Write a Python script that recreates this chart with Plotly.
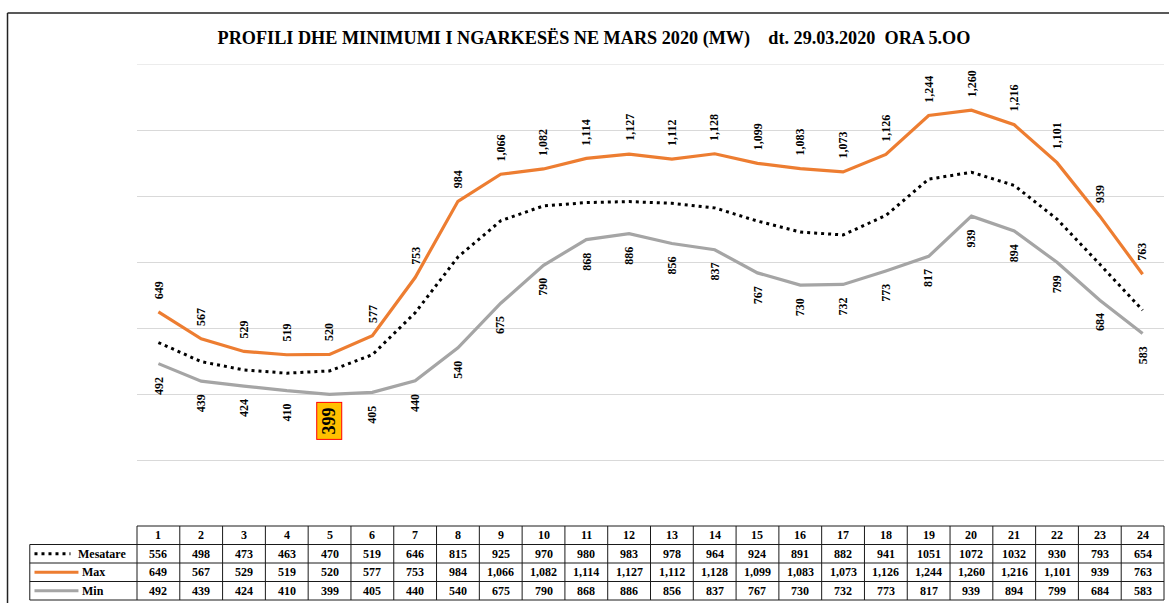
import plotly.graph_objects as go

# ---------------- data ----------------
hours = list(range(1, 25))
mesatare = [556, 498, 473, 463, 470, 519, 646, 815, 925, 970, 980, 983,
            978, 964, 924, 891, 882, 941, 1051, 1072, 1032, 930, 793, 654]
max_vals = [649, 567, 529, 519, 520, 577, 753, 984, 1066, 1082, 1114, 1127,
            1112, 1128, 1099, 1083, 1073, 1126, 1244, 1260, 1216, 1101, 939, 763]
min_vals = [492, 439, 424, 410, 399, 405, 440, 540, 675, 790, 868, 886,
            856, 837, 767, 730, 732, 773, 817, 939, 894, 799, 684, 583]
row_labels = ["Mesatare", "Max", "Min"]
title_text = ("PROFILI DHE MINIMUMI I NGARKESËS NE MARS 2020 (MW)"
              "\u00a0\u00a0\u00a0\u00a0dt. 29.03.2020\u00a0\u00a0ORA 5.OO")

# ---------------- styles / layout ----------------
W, H = 1169, 603
L, R, T, B = 136.6, 4.5, 64, 3
PW = W - L - R
PH = H - T - B
TABLE_H = 74.0
D = TABLE_H / PH            # fraction of plot height used by table
FONT = "Liberation Serif"
C_MAX = "#ED7D31"
C_MIN = "#A5A5A5"
C_AVG = "#000000"
GRID = "#D9D9D9"
Y_MAX = 1400


def pxx(px):
    return (px - L) / PW


def pxy(py):
    return (H - B - py) / PH


def row_y(r):
    return D * (1 - r / 4.0)


fig = go.Figure()
fig.add_trace(go.Scatter(x=hours, y=min_vals, mode="lines", name="Min",
                         line=dict(color=C_MIN, width=3.2)))
fig.add_trace(go.Scatter(x=hours, y=max_vals, mode="lines", name="Max",
                         line=dict(color=C_MAX, width=3.2)))
fig.add_trace(go.Scatter(x=hours, y=mesatare, mode="lines", name="Mesatare",
                         line=dict(color=C_AVG, width=3, dash="3px,4px")))

ann = []
lab_font = dict(family=FONT, size=12, color="black", weight="bold")
min_idx = min_vals.index(min(min_vals))
for h, v in zip(hours, max_vals):
    ann.append(dict(x=h, y=v, xref="x", yref="y", text=f"{v:,}", showarrow=False,
                    textangle=-90, yanchor="bottom", xanchor="center", yshift=11,
                    font=lab_font))
for i, (h, v) in enumerate(zip(hours, min_vals)):
    if i == min_idx:
        ann.append(dict(x=h, y=v, xref="x", yref="y", text=f"{v:,}", showarrow=False,
                        textangle=-90, yanchor="top", xanchor="center", yshift=-8,
                        font=dict(family=FONT, size=18, color="black", weight="bold"),
                        bgcolor="#FFC000", bordercolor="#FF0000", borderwidth=1,
                        borderpad=0, width=36, height=24))
    else:
        ann.append(dict(x=h, y=v, xref="x", yref="y", text=f"{v:,}", showarrow=False,
                        textangle=-90, yanchor="top", xanchor="center", yshift=-11,
                        font=lab_font))

# ---------------- table ----------------
tab_font = dict(family=FONT, size=12, color="black", weight="bold")
rows_text = [
    [str(v) for v in mesatare],
    [f"{v:,}" for v in max_vals],
    [f"{v:,}" for v in min_vals],
]
for h in hours:
    ann.append(dict(x=h, y=(row_y(0) + row_y(1)) / 2, xref="x", yref="paper",
                    text=str(h), showarrow=False, font=tab_font,
                    xanchor="center", yanchor="middle"))
for r, vals in enumerate(rows_text, start=1):
    yc = (row_y(r) + row_y(r + 1)) / 2
    for h, t in zip(hours, vals):
        ann.append(dict(x=h, y=yc, xref="x", yref="paper", text=t, showarrow=False,
                        font=tab_font, xanchor="center", yanchor="middle"))
label_x = [76, 80, 80]
for r, (lab, lx) in enumerate(zip(row_labels, label_x), start=1):
    yc = (row_y(r) + row_y(r + 1)) / 2
    ann.append(dict(x=pxx(lx), y=yc, xref="paper", yref="paper", text=lab,
                    showarrow=False, font=tab_font, xanchor="left", yanchor="middle"))

shapes = []
# top gridline (plotly omits the grid line on the range edge)
shapes.append(dict(type="line", xref="paper", yref="y", x0=0, x1=1,
                   y0=Y_MAX, y1=Y_MAX, layer="below",
                   line=dict(color=GRID, width=1)))
tline = dict(color="#1a1a1a", width=1)
TL = pxx(29.3)
# horizontal lines
shapes.append(dict(type="line", xref="paper", yref="paper", x0=0, x1=1,
                   y0=row_y(0), y1=row_y(0), line=tline))
for r in range(1, 5):
    shapes.append(dict(type="line", xref="paper", yref="paper", x0=TL, x1=1,
                       y0=row_y(r), y1=row_y(r), line=tline))
# vertical lines
for k in range(25):
    shapes.append(dict(type="line", xref="paper", yref="paper", x0=k / 24, x1=k / 24,
                       y0=row_y(4), y1=row_y(0), line=tline))
shapes.append(dict(type="line", xref="paper", yref="paper", x0=TL, x1=TL,
                   y0=row_y(4), y1=row_y(1), line=tline))
# legend keys
for r, (col, dash, w, xe) in enumerate([(C_AVG, "3px,4px", 3, 70),
                                         (C_MAX, "solid", 3.2, 78),
                                         (C_MIN, "solid", 3.2, 78)], start=1):
    yc = (row_y(r) + row_y(r + 1)) / 2
    shapes.append(dict(type="line", xref="paper", yref="paper", x0=pxx(34), x1=pxx(xe),
                       y0=yc, y1=yc, line=dict(color=col, width=w, dash=dash)))
# outer frame (left + top)
shapes.append(dict(type="line", xref="paper", yref="paper", x0=pxx(7), x1=pxx(7),
                   y0=pxy(13), y1=pxy(610), line=dict(color="#222", width=1.5)))
shapes.append(dict(type="line", xref="paper", yref="paper", x0=pxx(7), x1=pxx(1175),
                   y0=pxy(13), y1=pxy(13), line=dict(color="#222", width=1.5)))

fig.update_layout(
    width=W, height=H,
    margin=dict(l=L, r=R, t=T, b=B, autoexpand=False),
    paper_bgcolor="white", plot_bgcolor="white",
    showlegend=False,
    title=dict(text=title_text, x=594 / W, xanchor="center", y=1 - 38 / H,
               yanchor="middle", xref="container", yref="container",
               font=dict(family=FONT, size=18.2, color="black", weight="bold")),
    xaxis=dict(range=[0.5, 24.5], visible=False, fixedrange=True),
    yaxis=dict(domain=[D, 1], range=[0, Y_MAX], dtick=200,
               showgrid=True,
               gridcolor=GRID, gridwidth=1, showticklabels=False, ticks="",
               zeroline=False, showline=False, fixedrange=True),
    annotations=ann,
    shapes=shapes,
)

fig.write_html("out.html",
               config={"displayModeBar": False},
               post_script="document.body.style.margin='0';"
                           "document.body.style.overflow='hidden';")
